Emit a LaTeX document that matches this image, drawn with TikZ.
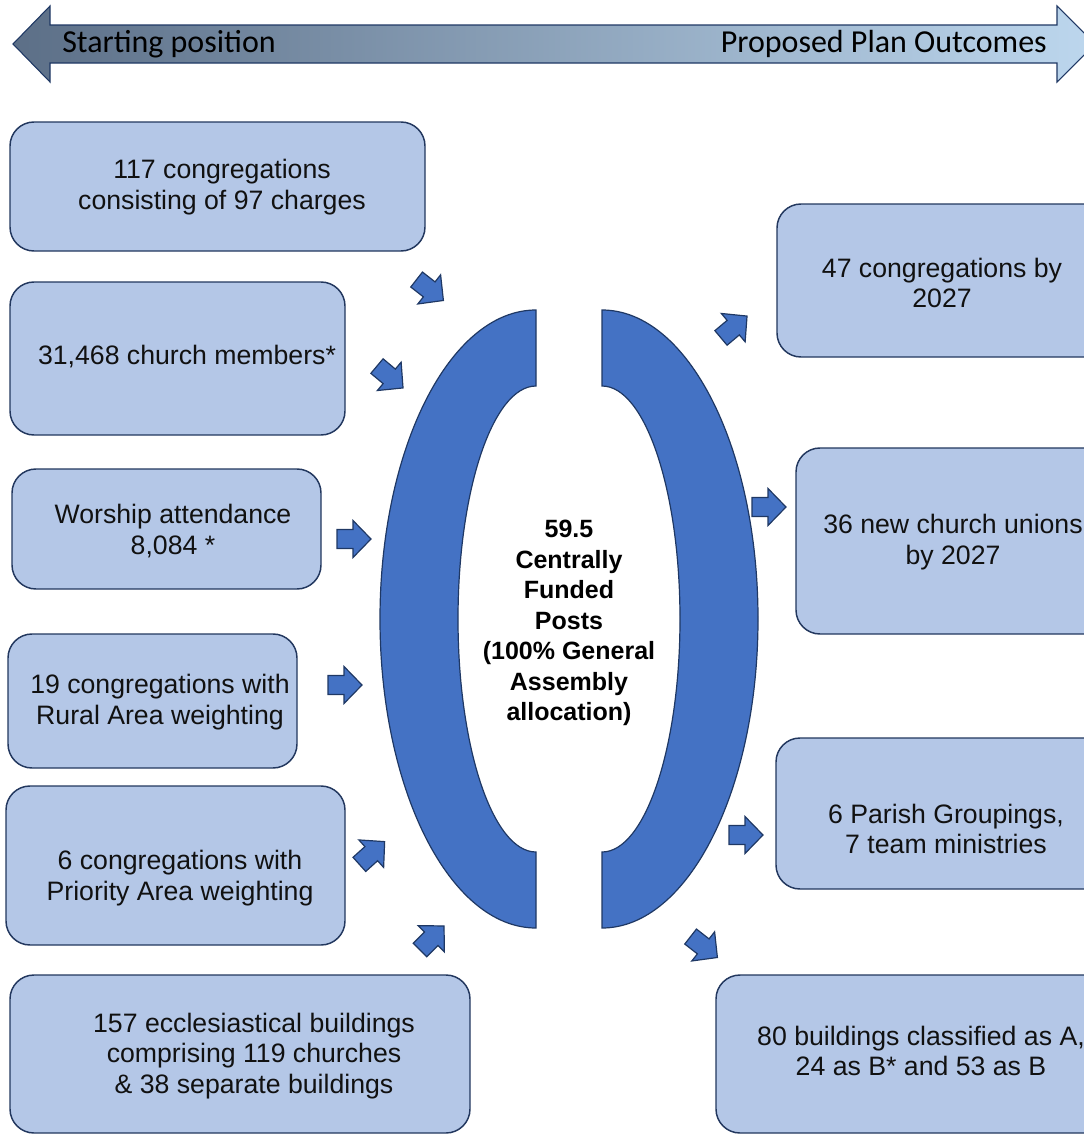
\documentclass[tikz,border=0pt]{standalone}
\usepackage{fontspec}
\setmainfont{Liberation Sans}
\newfontfamily\calfont{Carlito}
\usetikzlibrary{fit}
\definecolor{boxfill}{HTML}{B4C7E7}
\definecolor{boxline}{HTML}{22375E}
\definecolor{arrfill}{HTML}{4472C4}
\definecolor{arrline}{HTML}{1F3864}
\definecolor{gradL}{HTML}{5C6F87}
\definecolor{gradR}{HTML}{BDD7EE}
\definecolor{txtcol}{HTML}{111111}
\tikzset{
  box/.style={draw=boxline, fill=boxfill, rounded corners=18pt, line width=1.1pt, inner sep=0pt},
  boxtxt/.style={align=center, inner sep=0pt, text=txtcol, font=\fontsize{20}{23}\selectfont},
  ctxt/.style={align=center, inner sep=0pt, text=black, font=\bfseries\fontsize{18.75}{22.9}\selectfont},
  toptxt/.style={inner sep=0pt, text=black, font=\calfont\fontsize{24}{28}\selectfont},
  bracketshape/.style={fill=arrfill, draw=arrline, line width=0.9pt},
  blockarrow/.style={fill=arrfill, draw=arrline, line width=0.9pt, line join=miter},
  barrow/.pic={\path[blockarrow, rotate=#1] (-17,-9.5) -- (-1,-9.5) -- (-1,-18.5) -- (17,0) -- (-1,18.5) -- (-1,9.5) -- (-17,9.5) -- cycle;},
}
\begin{document}
\begin{tikzpicture}[x=0.75pt,y=-0.75pt]
\useasboundingbox (0,0) rectangle (1084,1135);

% top double arrow
\shadedraw[left color=gradL, right color=gradR, draw=arrline, line width=0.8pt]
  (13,44) -- (50,6) -- (50,25) -- (1057,25) -- (1057,6) -- (1095,44) -- (1057,82) -- (1057,63) -- (50,63) -- (50,82) -- cycle;
\node[toptxt, anchor=west] (start) at (62,44) {Starting position};
\node[toptxt, anchor=east] (goal) at (1047,44) {Proposed Plan Outcomes};

% left boxes
\node[box, fit={(10,122) (425,251)}] (L1) {};
\node[box, fit={(10,282) (345,435)}] (L2) {};
\node[box, fit={(12,469) (321,589)}] (L3) {};
\node[box, fit={(8,634) (297,768)}] (L4) {};
\node[box, fit={(6,786) (345,945)}] (L5) {};
\node[box, fit={(10,975) (470,1133)}] (L6) {};

% right boxes
\node[box, fit={(777,204) (1120,357)}] (R1) {};
\node[box, fit={(796,448) (1120,634)}] (R2) {};
\node[box, fit={(776,738) (1120,889)}] (R3) {};
\node[box, fit={(716,975) (1120,1133)}] (R4) {};

% texts
\node[boxtxt] (L1t) at (222,187) {117 congregations\\consisting of 97 charges};
\node[boxtxt] (L2t) at (187,357) {31,468 church members*};
\node[boxtxt] (L3t) at (173,531) {Worship attendance\\8,084 *};
\node[boxtxt] (L4t) at (160,702) {19 congregations with\\Rural Area weighting};
\node[boxtxt] (L5t) at (180,878) {6 congregations with\\Priority Area weighting};
\node[boxtxt] (L6t) at (254,1056) {157 ecclesiastical buildings\\comprising 119 churches\\\& 38 separate buildings};
\node[boxtxt] (R1t) at (942,283) {47 congregations by\\2027};
\node[boxtxt] (R2t) at (953,542) {36 new church unions\\by 2027};
\node[boxtxt] (R3t) at (946,829) {6 Parish Groupings,\\7 team ministries};
\node[boxtxt] (R4t) at (921,1051) {80 buildings classified as A,\\24 as B* and 53 as B};

% brackets
\filldraw[bracketshape] (536,310) arc[start angle=270, end angle=90, x radius=156, y radius=309]
  -- (536,852) arc[start angle=90, end angle=270, x radius=78, y radius=233] -- cycle;
\filldraw[bracketshape] (602,310) arc[start angle=-90, end angle=90, x radius=156, y radius=309]
  -- (602,852) arc[start angle=90, end angle=-90, x radius=78, y radius=233] -- cycle;

\node[ctxt] (core) at (569,623) {59.5\\Centrally\\Funded\\Posts\\(100\% General\\Assembly\\allocation)};

% small block arrows
\pic at (430,290) {barrow=-38};
\pic at (390,377) {barrow=-40};
\pic at (354,539) {barrow=0};
\pic at (345,685) {barrow=0};
\pic at (372,853) {barrow=42};
\pic at (432,938) {barrow=45};
\pic at (734,327) {barrow=40};
\pic at (769,507) {barrow=0};
\pic at (746,835) {barrow=0};
\pic at (704,947) {barrow=-38};
\end{tikzpicture}
\end{document}
